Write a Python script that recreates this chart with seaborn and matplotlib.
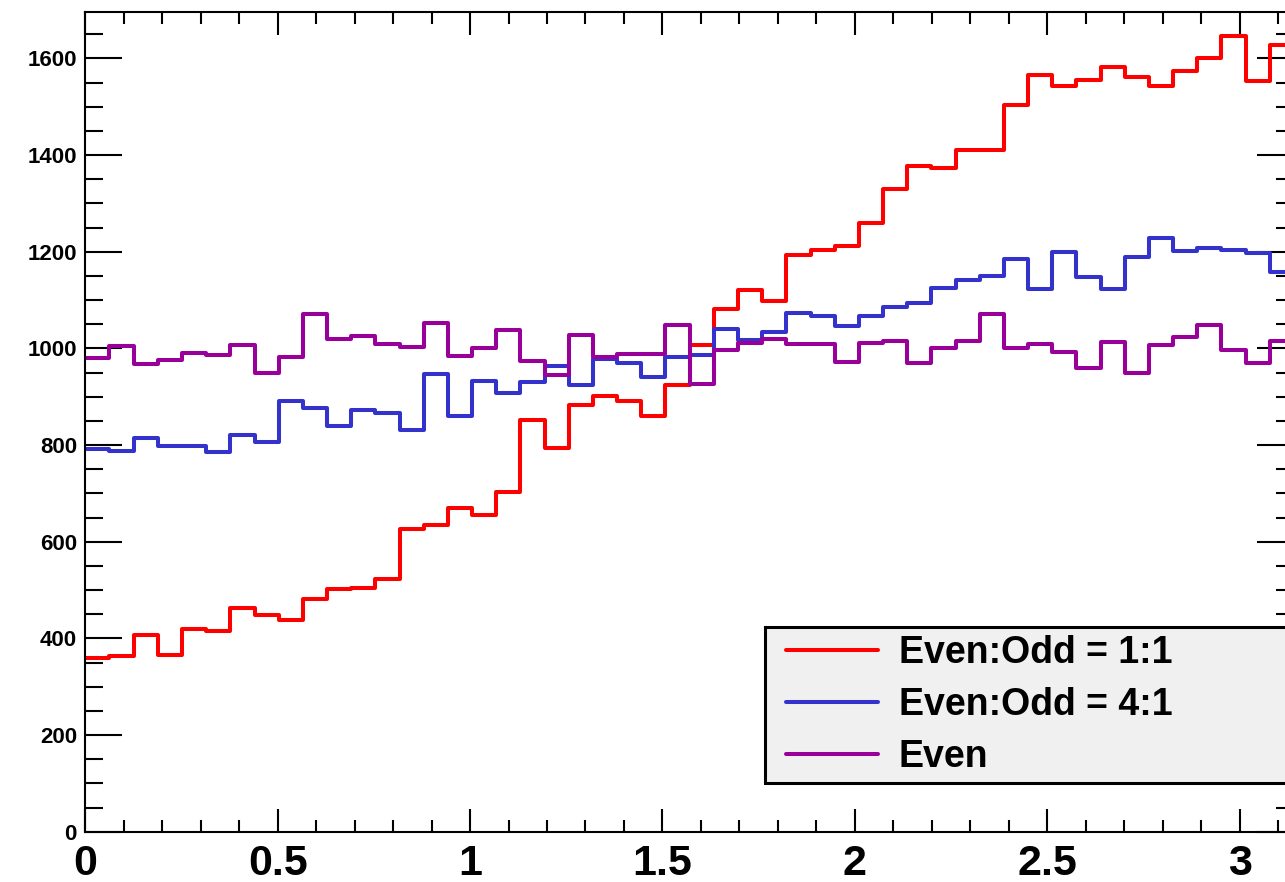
import numpy as np
import pandas as pd
import matplotlib
matplotlib.use("Agg")
import matplotlib.pyplot as plt
import seaborn as sns
from matplotlib.ticker import MultipleLocator
from matplotlib.lines import Line2D
from matplotlib.legend_handler import HandlerLine2D

# 50 bins over 0..pi, counts
n_bins = 50
x_range = (0, np.pi)

even_odd_1_1 = [360, 363, 407, 365, 420, 415, 463, 448, 438, 481,
                503, 505, 523, 626, 635, 669, 655, 703, 852, 793,
                883, 902, 892, 860, 924, 1007, 1081, 1120, 1099, 1194,
                1204, 1211, 1260, 1330, 1378, 1374, 1411, 1411, 1504, 1566,
                1542, 1555, 1582, 1562, 1543, 1574, 1600, 1646, 1553, 1628]

even_odd_4_1 = [792, 787, 815, 797, 797, 786, 821, 806, 891, 877,
                839, 872, 867, 831, 948, 860, 932, 907, 930, 964,
                924, 979, 969, 940, 983, 986, 1040, 1018, 1033, 1074,
                1066, 1047, 1066, 1086, 1093, 1124, 1142, 1149, 1184, 1122,
                1200, 1148, 1122, 1190, 1229, 1202, 1208, 1203, 1197, 1159]

even_only = [981, 1005, 967, 976, 990, 986, 1008, 950, 983, 1072,
             1019, 1026, 1009, 1002, 1053, 985, 1000, 1039, 974, 944,
             1027, 982, 988, 988, 1048, 926, 997, 1012, 1019, 1009,
             1009, 972, 1012, 1016, 969, 1001, 1016, 1071, 1001, 1010,
             993, 960, 1014, 950, 1007, 1024, 1048, 997, 969, 1016]

labels = ["Even:Odd = 1:1", "Even:Odd = 4:1", "Even"]
colors = ["#ff0000", "#3333cc", "#990099"]
x_ticks = [0, 0.5, 1, 1.5, 2, 2.5, 3]
y_ticks = [0, 200, 400, 600, 800, 1000, 1200, 1400, 1600]

sns.set_style("ticks")
plt.rcParams["font.family"] = ["Liberation Sans", "DejaVu Sans"]
plt.rcParams["font.weight"] = "bold"
plt.rcParams["text.color"] = "black"
plt.rcParams["xtick.color"] = "black"
plt.rcParams["ytick.color"] = "black"
plt.rcParams["xtick.labelcolor"] = "black"
plt.rcParams["ytick.labelcolor"] = "black"

W, H = 1285, 882
fig = plt.figure(figsize=(W / 100, H / 100), dpi=100)
x0, x1 = 85.3, 1294.0
y0, y1 = 831.7, 12.0
ax = fig.add_axes([x0 / W, (H - y0) / H, (x1 - x0) / W, (y0 - y1) / H])

edges = np.linspace(x_range[0], x_range[1], n_bins + 1)
centers = 0.5 * (edges[:-1] + edges[1:])
for series, lab, col in zip([even_odd_1_1, even_odd_4_1, even_only], labels, colors):
    df = pd.DataFrame({"x": centers, "w": series})
    sns.histplot(data=df, x="x", weights="w", bins=n_bins, binrange=x_range,
                 element="step", fill=False, color=col, linewidth=2.9,
                 label=lab, ax=ax)

ax.set_xlim(*x_range)
ax.set_ylim(0, 1696)
ax.set_xlabel("")
ax.set_ylabel("")

ax.set_xticks(x_ticks)
ax.set_xticklabels([f"{t:g}" for t in x_ticks], fontsize=31, fontweight="bold")
ax.set_yticks(y_ticks)
ax.set_yticklabels([str(t) for t in y_ticks], fontsize=16, fontweight="bold")
ax.xaxis.set_minor_locator(MultipleLocator(0.1))
ax.yaxis.set_minor_locator(MultipleLocator(50))

ax.tick_params(axis="both", which="both", direction="in", top=True, right=True,
               width=1.5, color="black")
ax.tick_params(axis="x", which="major", length=16.5, pad=9)
ax.tick_params(axis="x", which="minor", length=8.6)
ax.tick_params(axis="y", which="major", length=26.6, pad=6)
ax.tick_params(axis="y", which="minor", length=13)
for sp in ax.spines.values():
    sp.set_linewidth(1.5)
    sp.set_color("black")

leg = ax.legend(loc="upper left", bbox_to_anchor=(0.5623, 0.0631, 0.4377, 0.1866),
                mode="expand", prop={"size": 27, "weight": "bold"},
                handlelength=2.79, handletextpad=0.56, labelspacing=0.42,
                borderpad=0.22, borderaxespad=0, fancybox=False, framealpha=1,
                handler_map={Line2D: HandlerLine2D(xpad=0.34)})
leg.get_frame().set_facecolor("#f0f0f0")
leg.get_frame().set_edgecolor("black")
leg.get_frame().set_linewidth(2.2)
for line in leg.get_lines():
    line.set_linewidth(2.9)

fig.savefig("out.png", dpi=100)
